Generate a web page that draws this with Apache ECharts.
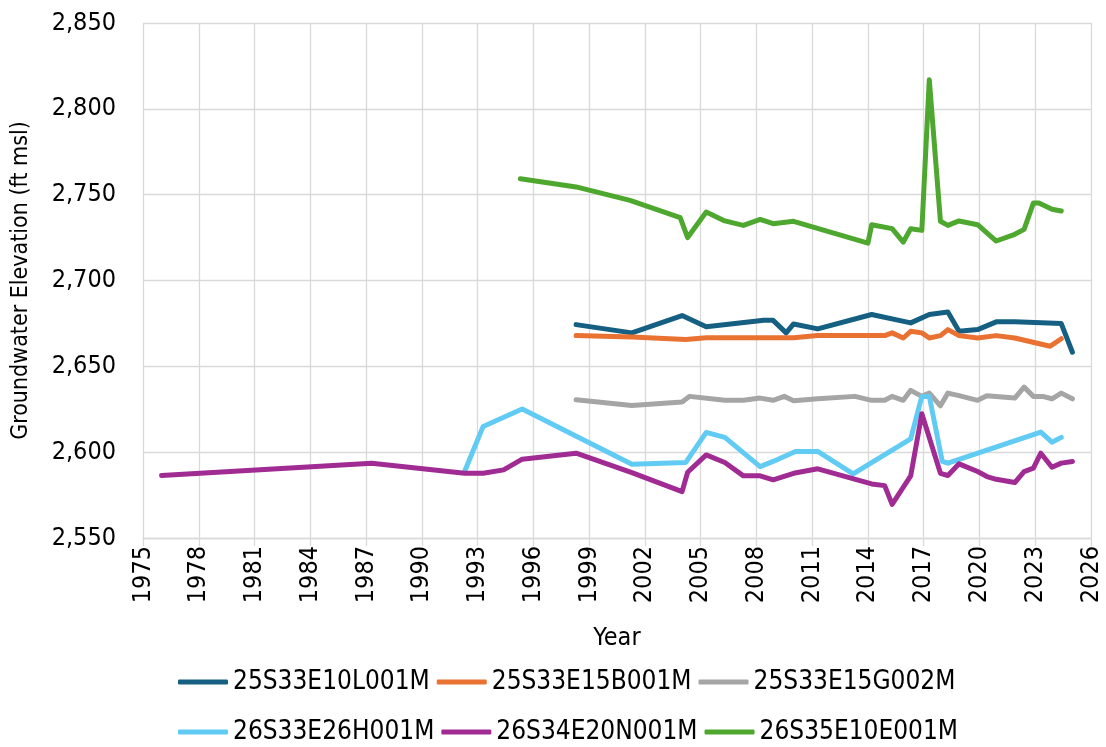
<!DOCTYPE html>
<html>
<head>
<meta charset="utf-8">
<script src="https://cdn.jsdelivr.net/npm/echarts@6/dist/echarts.min.js"></script>
<style>
  html, body { margin: 0; padding: 0; background: #fff; }
  #chart { width: 1106px; height: 747px; }
</style>
</head>
<body>
<div id="chart"></div>
<script>
// x axis runs 1975..2026, ticks every 3 years
const xStart = 1975;
const xEnd = 2026;

const seriesNames = [
  "25S33E10L001M", "25S33E15B001M", "25S33E15G002M",
  "26S33E26H001M", "26S34E20N001M", "26S35E10E001M"
];
const seriesColors = ["#156082", "#E97132", "#A5A5A5", "#61CBF3", "#A02B93", "#4EA72E"];

// 25S33E10L001M
const years1 = [1998.3, 2001.3, 2004.0, 2005.3, 2008.4, 2008.9, 2009.6, 2010.0, 2011.3, 2014.2, 2016.3, 2017.3, 2018.3, 2018.9, 2019.9, 2020.9, 2021.9, 2024.4, 2025.0];
const elev1 = [2674.3, 2669.5, 2679.6, 2673.0, 2676.8, 2676.8, 2669.5, 2674.7, 2671.8, 2680.2, 2675.3, 2680.2, 2681.7, 2670.4, 2671.4, 2675.9, 2675.9, 2674.9, 2658.2];

// 25S33E15B001M
const years2 = [1998.3, 2001.3, 2004.2, 2005.3, 2010.0, 2011.3, 2014.9, 2015.3, 2015.9, 2016.3, 2016.9, 2017.3, 2017.9, 2018.3, 2018.9, 2019.9, 2020.9, 2021.9, 2023.8, 2024.4];
const elev2 = [2667.9, 2667.1, 2665.6, 2666.7, 2666.7, 2667.9, 2667.9, 2669.5, 2666.5, 2670.4, 2669.5, 2666.5, 2667.9, 2671.4, 2667.9, 2666.5, 2667.9, 2666.5, 2661.7, 2666.1];

// 25S33E15G002M
const years3 = [1998.3, 2001.3, 2004.0, 2004.4, 2006.3, 2007.3, 2008.2, 2008.9, 2009.5, 2010.0, 2011.3, 2013.3, 2014.2, 2014.9, 2015.3, 2015.9, 2016.3, 2016.9, 2017.3, 2017.9, 2018.3, 2018.9, 2019.9, 2020.4, 2021.9, 2022.4, 2022.9, 2023.4, 2023.9, 2024.4, 2025.0];
const elev3 = [2630.5, 2627.2, 2629.2, 2632.5, 2630.2, 2630.2, 2631.5, 2630.2, 2632.5, 2630.0, 2631.1, 2632.5, 2630.2, 2630.2, 2632.5, 2630.2, 2636.0, 2632.5, 2634.4, 2627.0, 2634.4, 2632.9, 2630.2, 2632.9, 2631.5, 2637.9, 2632.5, 2632.5, 2631.1, 2634.4, 2631.1];

// 26S33E26H001M
const years4 = [1992.3, 1993.3, 1995.4, 2001.3, 2004.2, 2005.3, 2006.3, 2008.2, 2008.9, 2010.1, 2011.3, 2013.2, 2016.3, 2016.9, 2017.3, 2018.0, 2018.3, 2023.3, 2023.9, 2024.4];
const elev4 = [2588.7, 2615.0, 2625.1, 2593.0, 2594.0, 2611.5, 2608.6, 2591.6, 2594.6, 2600.4, 2600.4, 2587.4, 2607.8, 2632.5, 2632.5, 2594.6, 2593.6, 2611.7, 2605.8, 2608.6];

// 26S34E20N001M
const years5 = [1976.0, 1987.3, 1992.3, 1993.3, 1994.4, 1995.4, 1998.3, 2001.3, 2004.0, 2004.3, 2005.3, 2006.3, 2007.3, 2008.2, 2008.9, 2010.0, 2011.3, 2014.2, 2014.9, 2015.3, 2016.3, 2016.9, 2017.9, 2018.3, 2018.9, 2019.9, 2020.4, 2020.9, 2021.9, 2022.4, 2022.9, 2023.3, 2023.9, 2024.4, 2025.0];
const elev5 = [2586.4, 2593.6, 2587.7, 2587.7, 2589.7, 2595.9, 2599.4, 2588.1, 2577.0, 2588.3, 2598.4, 2594.0, 2586.2, 2586.2, 2583.9, 2587.7, 2590.3, 2581.5, 2580.5, 2569.6, 2586.2, 2622.4, 2587.7, 2586.4, 2593.2, 2588.7, 2585.8, 2584.2, 2582.3, 2588.7, 2590.7, 2599.4, 2591.2, 2593.6, 2594.6];

// 26S35E10E001M
const years6 = [1995.3, 1998.3, 2001.2, 2003.9, 2004.3, 2005.3, 2006.3, 2007.3, 2008.2, 2008.9, 2010.0, 2014.0, 2014.2, 2015.3, 2015.9, 2016.3, 2016.9, 2017.3, 2017.9, 2018.3, 2018.9, 2019.9, 2020.9, 2021.9, 2022.4, 2022.9, 2023.2, 2023.9, 2024.4];
const elev6 = [2759.3, 2754.5, 2746.7, 2736.6, 2725.0, 2739.9, 2734.7, 2732.1, 2735.6, 2733.1, 2734.5, 2721.8, 2732.5, 2730.2, 2722.4, 2730.2, 2729.2, 2817.0, 2734.5, 2732.1, 2734.7, 2732.5, 2723.0, 2726.9, 2729.8, 2745.1, 2745.1, 2741.5, 2740.5];

const allYears = [years1, years2, years3, years4, years5, years6];
const allElev = [elev1, elev2, elev3, elev4, elev5, elev6];

const font = '"DejaVu Sans Condensed", "Liberation Sans", sans-serif';

const chart = echarts.init(document.getElementById("chart"));

// x is stored as offset from 1975 so ticks start at the left edge
const series = seriesNames.map((name, i) => ({
  name: name,
  type: "line",
  symbol: "none",
  data: allYears[i].map((y, k) => [y - xStart, allElev[i][k]]),
  lineStyle: { color: seriesColors[i], width: 5, cap: "round", join: "round" },
  itemStyle: { color: seriesColors[i] },
  z: i === 4 ? 3 : 2,
}));

const legendBase = {
  icon: "roundRect",
  itemWidth: 50,
  itemHeight: 5,
  itemGap: 7,
  padding: 0,
  left: 178,
  textStyle: { fontFamily: font, fontSize: 26, color: "#000" },
};

const option = {
  animation: false,
  backgroundColor: "#fff",
  grid: { left: 143, right: 15, top: 23, bottom: 209, containLabel: false },
  legend: [
    Object.assign({}, legendBase, { top: 669, data: seriesNames.slice(0, 3) }),
    Object.assign({}, legendBase, { top: 719, data: seriesNames.slice(3) }),
  ],
  xAxis: {
    type: "value",
    min: 0,
    max: xEnd - xStart,
    interval: 3,
    name: "Year",
    nameLocation: "middle",
    nameGap: 88,
    nameTextStyle: { fontFamily: font, fontSize: 25, color: "#000" },
    axisLine: { show: true, lineStyle: { color: "#D9D9D9", width: 1.3 } },
    axisTick: { show: true, length: 8, lineStyle: { color: "#D9D9D9", width: 1.3 } },
    axisLabel: {
      rotate: 90,
      margin: 8,
      fontFamily: font,
      fontSize: 25,
      color: "#000",
      formatter: (v) => String(v + xStart),
    },
    splitLine: { show: true, lineStyle: { color: "#D9D9D9", width: 1.3 } },
  },
  yAxis: {
    type: "value",
    min: 2550,
    max: 2850,
    interval: 50,
    name: "Groundwater Elevation (ft msl)",
    nameLocation: "middle",
    nameGap: 110,
    nameTextStyle: { fontFamily: font, fontSize: 23, color: "#000" },
    axisLine: { show: false },
    axisTick: { show: false },
    axisLabel: {
      margin: 27,
      fontFamily: font,
      fontSize: 25,
      color: "#000",
      formatter: (v) => v.toLocaleString("en-US"),
    },
    splitLine: { show: true, lineStyle: { color: "#D9D9D9", width: 1.3 } },
  },
  series: series,
};

chart.setOption(option);
</script>
</body>
</html>
